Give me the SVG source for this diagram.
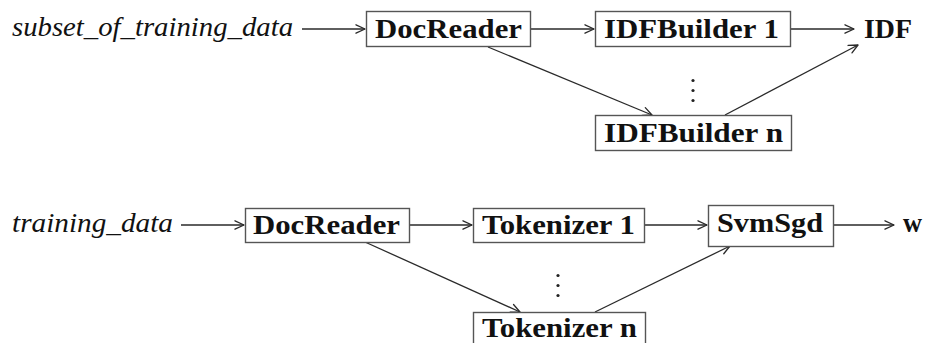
<svg xmlns="http://www.w3.org/2000/svg" width="927" height="343" viewBox="0 0 927 343">
  <defs>
    <marker id="arr" markerUnits="userSpaceOnUse" markerWidth="14" markerHeight="12" viewBox="-11 -6 12 12" refX="0" refY="0" orient="auto">
      <path d="M-9,-4.2 L0,0 L-9,4.2" fill="none" stroke="#2a2a2a" stroke-width="1.3" stroke-linecap="round" stroke-linejoin="round"/>
    </marker>
    <style>
      .box { fill: #fff; stroke: #555; stroke-width: 1.4; }
      .lbl { font-family: "Liberation Serif", "DejaVu Serif", serif; font-weight: bold; font-size: 27.5px; fill: #111; }
      .io  { font-family: "Liberation Serif", "DejaVu Serif", serif; font-style: italic; font-size: 27px; fill: #111; }
      .edge { fill: none; stroke: #2a2a2a; stroke-width: 1.3; marker-end: url(#arr); }
      .dot { fill: #222; }
    </style>
  </defs>
  <rect width="927" height="343" fill="#fff"/>

  <!-- connectors -->
  <g id="connectors">
    <!-- IDF pipeline -->
    <line class="edge" x1="302" y1="29" x2="365" y2="29"/>
    <line class="edge" x1="531" y1="29" x2="594" y2="29"/>
    <line class="edge" x1="791" y1="29" x2="854" y2="29"/>
    <line class="edge" x1="488" y1="47" x2="652" y2="115"/>
    <line class="edge" x1="725" y1="115" x2="858" y2="45"/>
    <!-- training pipeline -->
    <line class="edge" x1="181" y1="225" x2="244" y2="225"/>
    <line class="edge" x1="410" y1="225" x2="472" y2="225"/>
    <line class="edge" x1="645" y1="225" x2="707" y2="225"/>
    <line class="edge" x1="833" y1="225" x2="894" y2="225"/>
    <line class="edge" x1="365" y1="242" x2="520" y2="312"/>
    <line class="edge" x1="595" y1="312" x2="730" y2="246"/>
  </g>

  <!-- IDF pipeline -->
  <g id="subset-input">
    <text class="io" x="12" y="36" textLength="281" lengthAdjust="spacingAndGlyphs">subset_of_training_data</text>
  </g>
  <g id="docreader-1">
    <rect class="box" x="366.5" y="11.5" width="164" height="35"/>
    <text class="lbl" x="375" y="38" textLength="147" lengthAdjust="spacingAndGlyphs">DocReader</text>
  </g>
  <g id="idfbuilder-1">
    <rect class="box" x="595.5" y="11.5" width="195" height="35"/>
    <text class="lbl" x="604" y="38" textLength="175" lengthAdjust="spacingAndGlyphs">IDFBuilder 1</text>
  </g>
  <g id="idfbuilder-dots">
    <circle class="dot" cx="693" cy="80.5" r="1.6"/>
    <circle class="dot" cx="693" cy="90.5" r="1.6"/>
    <circle class="dot" cx="693" cy="100.5" r="1.6"/>
  </g>
  <g id="idfbuilder-n">
    <rect class="box" x="595.5" y="115.5" width="196" height="35"/>
    <text class="lbl" x="604" y="142" textLength="179" lengthAdjust="spacingAndGlyphs">IDFBuilder n</text>
  </g>
  <g id="idf-output">
    <text class="lbl" x="864" y="38" textLength="48" lengthAdjust="spacingAndGlyphs">IDF</text>
  </g>

  <!-- training pipeline -->
  <g id="training-input">
    <text class="io" x="12" y="232" textLength="161" lengthAdjust="spacingAndGlyphs">training_data</text>
  </g>
  <g id="docreader-2">
    <rect class="box" x="245.5" y="208.5" width="164" height="34"/>
    <text class="lbl" x="253" y="234" textLength="147" lengthAdjust="spacingAndGlyphs">DocReader</text>
  </g>
  <g id="tokenizer-1">
    <rect class="box" x="473.5" y="208.5" width="171" height="34"/>
    <text class="lbl" x="482" y="234" textLength="153" lengthAdjust="spacingAndGlyphs">Tokenizer 1</text>
  </g>
  <g id="tokenizer-dots">
    <circle class="dot" cx="558" cy="275.5" r="1.6"/>
    <circle class="dot" cx="558" cy="285.5" r="1.6"/>
    <circle class="dot" cx="558" cy="295.5" r="1.6"/>
  </g>
  <g id="tokenizer-n">
    <rect class="box" x="473.5" y="312.5" width="172" height="34"/>
    <text class="lbl" x="482" y="337" textLength="155" lengthAdjust="spacingAndGlyphs">Tokenizer n</text>
  </g>
  <g id="svmsgd">
    <rect class="box" x="708.5" y="205.5" width="125" height="41"/>
    <text class="lbl" x="717" y="232" textLength="106" lengthAdjust="spacingAndGlyphs">SvmSgd</text>
  </g>
  <g id="w-output">
    <text class="lbl" x="903" y="232" textLength="19" lengthAdjust="spacingAndGlyphs">w</text>
  </g>
</svg>
